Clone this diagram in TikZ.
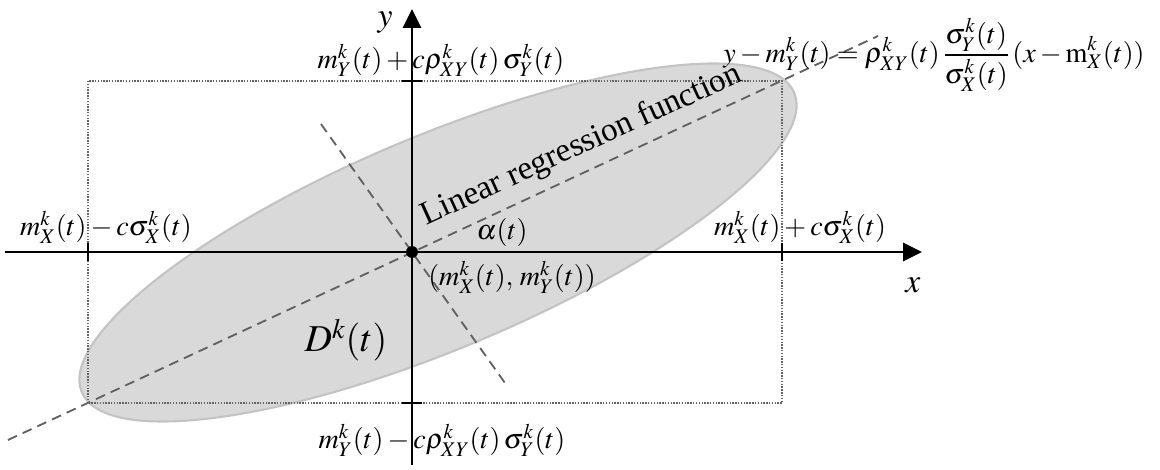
\documentclass[tikz,border=0pt]{standalone}
\usepackage{mathptmx}
\usepackage[no-math]{fontspec}
\setmainfont{Liberation Serif}
\usepackage{tikz}
\usetikzlibrary{arrows.meta}
\definecolor{regionGray}{RGB}{217,217,217}
\definecolor{rimGray}{RGB}{195,195,195}
\definecolor{dashGray}{RGB}{96,96,96}
\definecolor{boxGray}{RGB}{100,100,100}
\tikzset{
  axis/.style={line width=2pt, -{Triangle[length=0.475cm, width=0.45cm]}},
  tickmark/.style={line width=1.5pt},
  guide/.style={dashGray, line width=1.3pt, dash pattern=on 7pt off 4.5pt},
  eqlabel/.style={font=\fontsize{20}{24}\selectfont, inner sep=1pt},
  biglabel/.style={font=\fontsize{24}{28}\selectfont, inner sep=1pt}
}

\begin{document}
\begin{tikzpicture}
  \useasboundingbox (-10.3,-5.45) rectangle (18.7,6.3);
  \coordinate (O) at (0,0);
  \coordinate (C) at (0.65,0.2375);
  \fill[regionGray, draw=rimGray, line width=1.5pt, rotate around={22.8:(C)}] (C) ellipse (9.66 and 2.66);
  \draw[boxGray, densely dotted, line width=1pt] (-8.1,-3.775) rectangle (9.25,4.275);
  \coordinate (regA) at (-10.1,-4.7);
  \coordinate (regB) at (11.65,5.4);
  \coordinate (perpA) at (-2.275,3.2);
  \coordinate (perpB) at (2.325,-3.275);
  \draw[guide] (regA) -- (regB);
  \draw[guide] (perpA) -- (perpB);
  \draw[axis] (-10.175,0) -- (12.75,0);
  \draw[axis] (0,-5.33) -- (0,6.075);
  \foreach \x in {-8.1, 9.25}
    \draw[tickmark] (\x,-0.22) -- (\x,0.22);
  \foreach \y in {-3.775, 4.275}
    \draw[tickmark] (-0.25,\y) -- (0.25,\y);
  \fill (O) circle (0.15);
  \node[biglabel] (ylbl) at (-0.675,5.725) {$y$};
  \node[biglabel] (xlbl) at (12.525,-0.825) {$x$};
  \node[eqlabel] (topLbl) at (0.725,4.8) {$m^k_Y(t) + c\rho^k_{XY}(t)\,\sigma^k_Y(t)$};
  \node[eqlabel] (botLbl) at (0.75,-4.7) {$m^k_Y(t) - c\rho^k_{XY}(t)\,\sigma^k_Y(t)$};
  \node[eqlabel] (leftLbl) at (-7.65,0.625) {$m^k_X(t) - c\sigma^k_X(t)$};
  \node[eqlabel] (rightLbl) at (9.7,0.625) {$m^k_X(t) + c\sigma^k_X(t)$};
  \node[eqlabel] (alphaLbl) at (2.25,0.5) {$\alpha(t)$};
  \node[eqlabel] (meanLbl) at (2.5,-0.625) {$(m^k_X(t),\, m^k_Y(t))$};
  \node[font=\fontsize{27}{32}\selectfont] (regionLbl) at (-1.65,-2.2) {$D^k(t)$};
  \node[font=\fontsize{23.5}{27}\selectfont, rotate=24.5] (regLbl) at (4.24,2.66) {Linear regression function};
  \node[eqlabel] (eqLbl) at (13.05,4.925) {$y - m^k_Y(t) = \rho^k_{XY}(t)\,\displaystyle\frac{\sigma^k_Y(t)}{\sigma^k_X(t)}\,(x - \mathrm{m}^k_X(t))$};
\end{tikzpicture}
\end{document}
